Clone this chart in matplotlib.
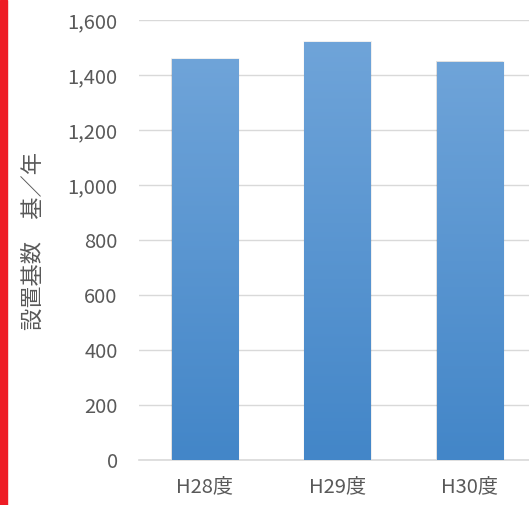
import matplotlib
matplotlib.use("Agg")
import matplotlib.pyplot as plt
import numpy as np
from matplotlib.colors import LinearSegmentedColormap
from matplotlib.patches import Rectangle
from matplotlib.ticker import FuncFormatter, MultipleLocator

plt.rcParams['font.family'] = ['Noto Sans CJK JP', 'DejaVu Sans']

categories = ["H28度", "H29度", "H30度"]
values = [1458, 1519, 1448]
y_label = "設置基数　基／年"

fig = plt.figure(figsize=(5.29, 5.05), dpi=100)
ax = fig.add_axes([138.5 / 529, 45 / 505, (536 - 138.5) / 529, 440 / 505])

x = np.arange(len(categories))
bars = ax.bar(x, values, width=0.5, color="none", zorder=3)

grad = LinearSegmentedColormap.from_list("g", ["#4386c8", "#6fa4d9"])
for b in bars:
    x0, y0 = b.get_x(), b.get_y()
    w, h = b.get_width(), b.get_height()
    # soft drop shadow around each bar
    for i, a in enumerate([0.06, 0.04, 0.025]):
        dx = 0.0045 * (i + 1)
        dy = 3.0 * (i + 1)
        ax.add_patch(Rectangle((x0 - dx * 0.5, y0), w + dx * 1.5, h + dy * 0.5,
                               color="black", alpha=a, lw=0, zorder=2))
    im = ax.imshow(np.linspace(0, 1, 256).reshape(-1, 1), cmap=grad,
                   extent=[x0, x0 + w, y0, y0 + h], origin="lower",
                   aspect="auto", zorder=3)
    im.set_clip_path(b)

ax.set_xlim(-0.5, 2.5)
ax.set_ylim(0, 1600)
ax.yaxis.set_major_locator(MultipleLocator(200))
ax.yaxis.set_major_formatter(FuncFormatter(lambda v, p: f"{int(v):,}"))
ax.grid(axis="y", color="#d9d9d9", lw=1, zorder=0)
ax.set_axisbelow(True)
for s in ["top", "right", "left"]:
    ax.spines[s].set_visible(False)
ax.spines["bottom"].set_color("#d9d9d9")
ax.spines["bottom"].set_linewidth(1.2)
ax.set_xticks(x)
ax.set_xticklabels(categories)
ax.tick_params(axis="both", length=0, colors="#595959", labelsize=14.5)
ax.tick_params(axis="y", pad=15)
ax.tick_params(axis="x", pad=12)
ax.set_ylabel(y_label, color="#595959", fontsize=16)
ax.yaxis.set_label_coords(-0.236, 0.497)

fig.patches.append(Rectangle((0, 0), 7 / 529, 1, transform=fig.transFigure,
                             color="#ee1c25", zorder=5))

fig.savefig("out.png", dpi=100)
